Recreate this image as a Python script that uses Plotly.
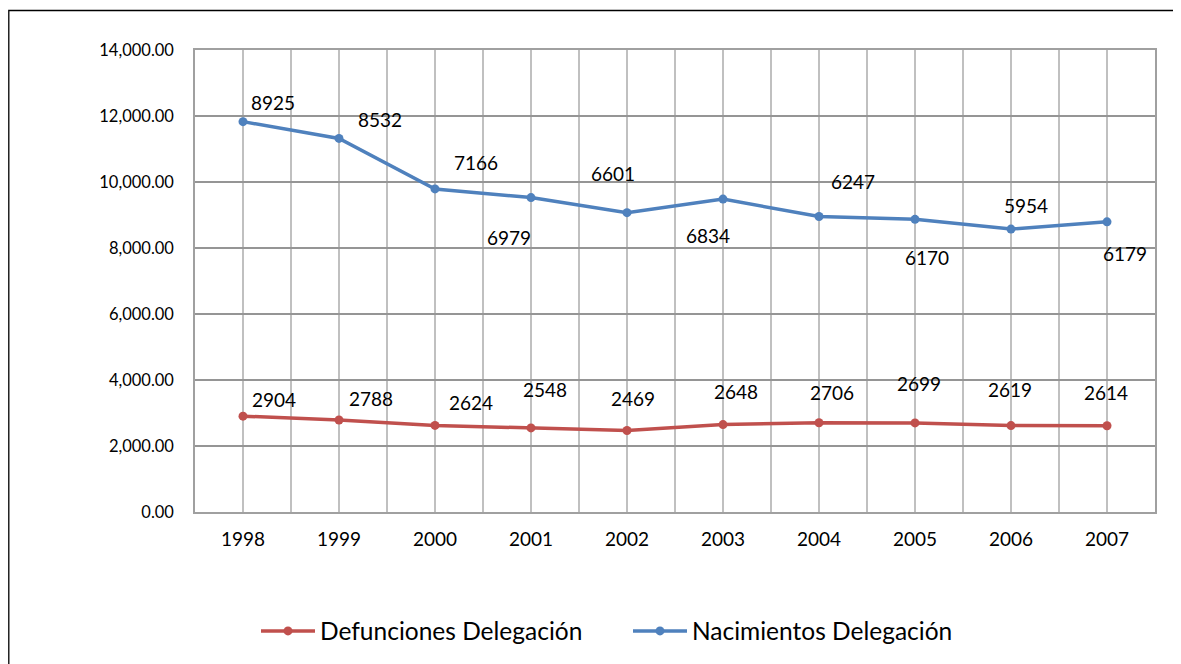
import plotly.graph_objects as go

# ---- data ----
years = ["1998", "1999", "2000", "2001", "2002", "2003", "2004", "2005", "2006", "2007"]
defunciones = [2904, 2788, 2624, 2548, 2469, 2648, 2706, 2699, 2619, 2614]
nacimientos = [8925, 8532, 7166, 6979, 6601, 6834, 6247, 6170, 5954, 6179]
y_ticks = [0, 2000, 4000, 6000, 8000, 10000, 12000, 14000]

# ---- label placement (pixel offsets, style only) ----
def_off = [(31, -17), (32, -22), (36, -23), (14, -38), (6, -32),
           (13, -33), (13, -30), (4, -39), (-1, -36), (-1, -33)]
nac_off = [(30, -19), (41, -19), (41, -26), (-22, 40), (-14, -39),
           (-15, 36), (34, -35), (12, 38), (15, -24), (18, 32)]

RED = "#C0504D"
BLUE = "#4F81BD"
FONT = "Lato, 'Open Sans', sans-serif"

xs = list(range(len(years)))

fig = go.Figure()
fig.add_trace(go.Scatter(
    x=xs, y=defunciones, name="Defunciones Delegación", mode="lines+markers",
    stackgroup="s", fill="none",
    line=dict(color=RED, width=3.5), marker=dict(color=RED, size=9),
))
fig.add_trace(go.Scatter(
    x=xs, y=nacimientos, name="Nacimientos Delegación", mode="lines+markers",
    stackgroup="s", fill="none",
    line=dict(color=BLUE, width=3.5), marker=dict(color=BLUE, size=9),
))

annotations = []
for i, v in enumerate(defunciones):
    dx, dy = def_off[i]
    annotations.append(dict(x=xs[i], y=v, xref="x", yref="y", text=str(v),
                            showarrow=False, xshift=dx, yshift=-dy,
                            font=dict(family=FONT, size=19, color="#000")))
for i, v in enumerate(nacimientos):
    dx, dy = nac_off[i]
    annotations.append(dict(x=xs[i], y=v + defunciones[i], xref="x", yref="y",
                            text=str(v), showarrow=False, xshift=dx, yshift=-dy,
                            font=dict(family=FONT, size=19, color="#000")))

# page body has an 8px margin, so figure coordinates are page coordinates - 8
OFF = 8
L, T, W, H = 195 - OFF, 50 - OFF, 960, 462
def px_x(p):
    return (p - OFF - L) / W
def px_y(p):
    return (T + H - (p - OFF)) / H

fig.update_layout(
    width=1181, height=664,
    margin=dict(l=L, r=1181 - L - W, t=T, b=664 - T - H),
    paper_bgcolor="white", plot_bgcolor="white",
    font=dict(family=FONT, color="#000"),
    showlegend=True,
    legend=dict(orientation="h", x=px_x(256), xanchor="left", y=px_y(631), yanchor="middle",
                font=dict(family=FONT, size=24.5, color="#000"), traceorder="normal",
                itemwidth=54, entrywidth=303, entrywidthmode="pixels"),
    annotations=annotations,
    shapes=[dict(type="rect", xref="paper", yref="paper",
                 x0=px_x(8.8), x1=px_x(1200), y0=px_y(700), y1=px_y(10.5),
                 line=dict(color="#000", width=1.3), fillcolor="rgba(0,0,0,0)", layer="below")],
    xaxis=dict(range=[-0.5, len(years) - 0.5], tickvals=xs, ticktext=years,
               showgrid=True, gridcolor="#C0C0C0", gridwidth=2,
               minor=dict(tickvals=[i - 0.5 for i in range(len(years) + 1)], showgrid=True,
                          gridcolor="#C0C0C0", gridwidth=2),
               showline=True, linecolor="#A0A0A0", linewidth=2, mirror=True,
               zeroline=False, ticks="", ticklabelstandoff=9,
               tickfont=dict(family=FONT, size=19, color="#000")),
    yaxis=dict(range=[0, 14000], tickvals=y_ticks, tickformat=",.2f",
               showgrid=True, gridcolor="#959595", gridwidth=1.5,
               showline=True, linecolor="#A0A0A0", linewidth=1.5, mirror=True,
               zeroline=False, ticks="", ticklabelstandoff=16,
               tickfont=dict(family=FONT, size=16.5, color="#000")),
)

fig.write_html("out.html")
